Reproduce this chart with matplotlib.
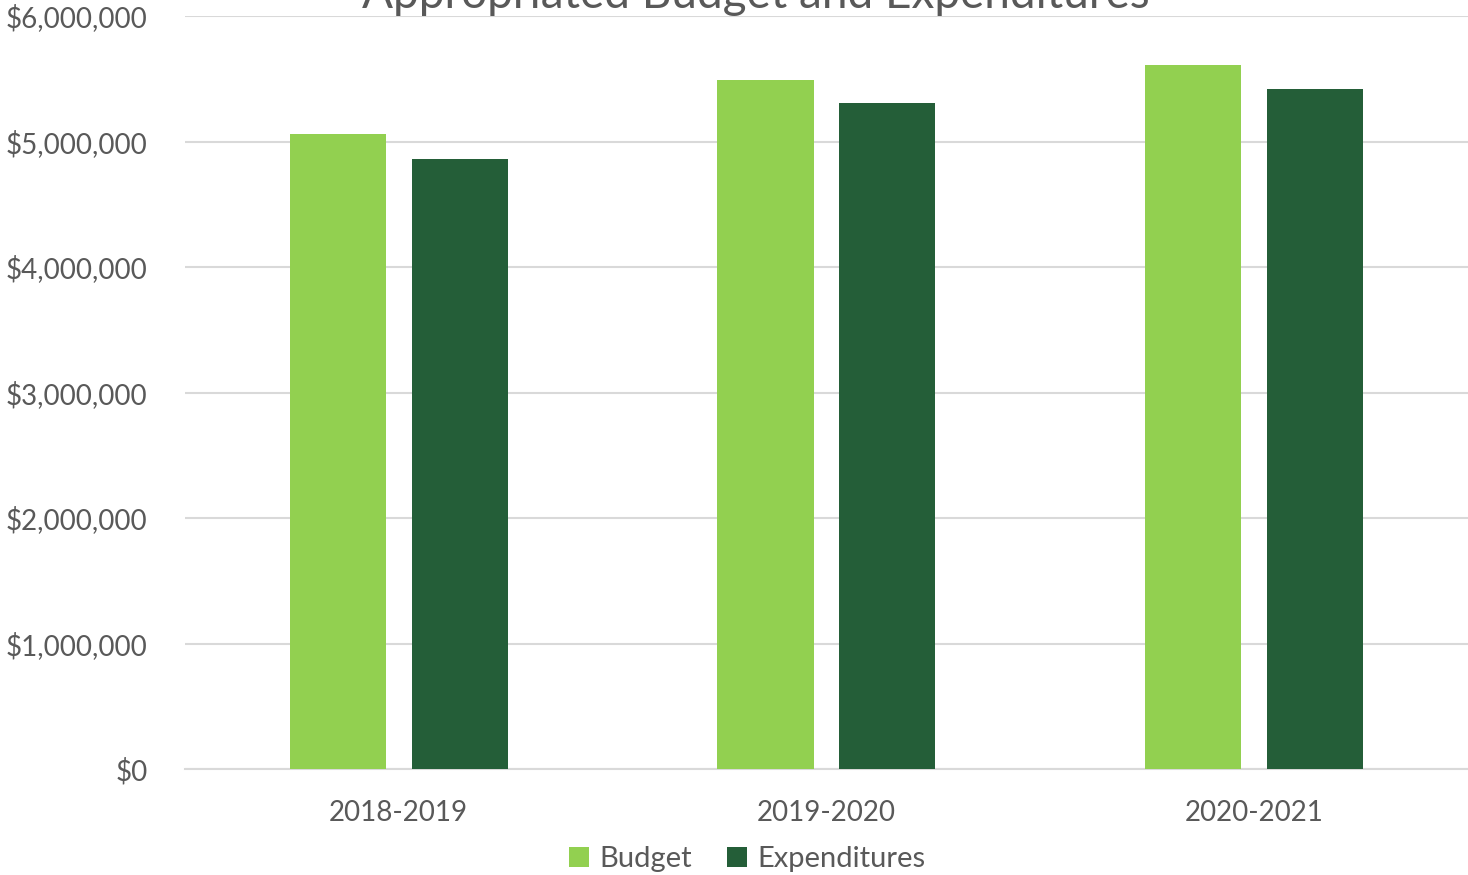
import numpy as np
import matplotlib.pyplot as plt
from matplotlib.ticker import FuncFormatter

# Budget vs. spending by fiscal year
years = ['2018-2019', '2019-2020', '2020-2021']
budget = [5060000, 5490000, 5610000]
expenditures = [4860000, 5310000, 5420000]

plt.rcParams['font.family'] = ['Lato', 'DejaVu Sans']
text_color = '#595959'

fig = plt.figure(figsize=(14.68, 8.75), dpi=100)
ax = fig.add_axes([0.126, 0.1211, 0.874, 0.8606])

x = np.arange(len(years))
w = 0.2245
off = 0.1426
ax.bar(x - off, budget, w, color='#92D050', label='Budget', zorder=3)
ax.bar(x + off, expenditures, w, color='#245E38', label='Expenditures', zorder=3)

ax.set_xlim(-0.5, len(years) - 0.5)
ax.set_ylim(0, 6000000)
ax.set_yticks(np.arange(0, 6000001, 1000000))
ax.yaxis.set_major_formatter(FuncFormatter(lambda v, p: f'${v:,.0f}'))
ax.set_xticks(x)
ax.set_xticklabels(years)

ax.grid(axis='y', color='#D9D9D9', linewidth=1.5, zorder=0)
for s in ['top', 'right', 'left']:
    ax.spines[s].set_visible(False)
ax.spines['bottom'].set_color('#D9D9D9')
ax.spines['bottom'].set_linewidth(1.5)
ax.tick_params(axis='both', length=0, labelsize=20, colors=text_color)
ax.tick_params(axis='x', pad=22)
ax.tick_params(axis='y', pad=27)

fig.text(0.515, 0.991, 'Appropriated Budget and Expenditures', ha='center', va='baseline',
         fontsize=33, color=text_color)

fig.legend(loc='center', bbox_to_anchor=(0.509, 0.018), ncol=2, frameon=False,
           fontsize=21, labelcolor=text_color, handlelength=0.7, handleheight=0.7,
           handletextpad=0.35, columnspacing=1.2)

fig.savefig('out.png', dpi=100)
